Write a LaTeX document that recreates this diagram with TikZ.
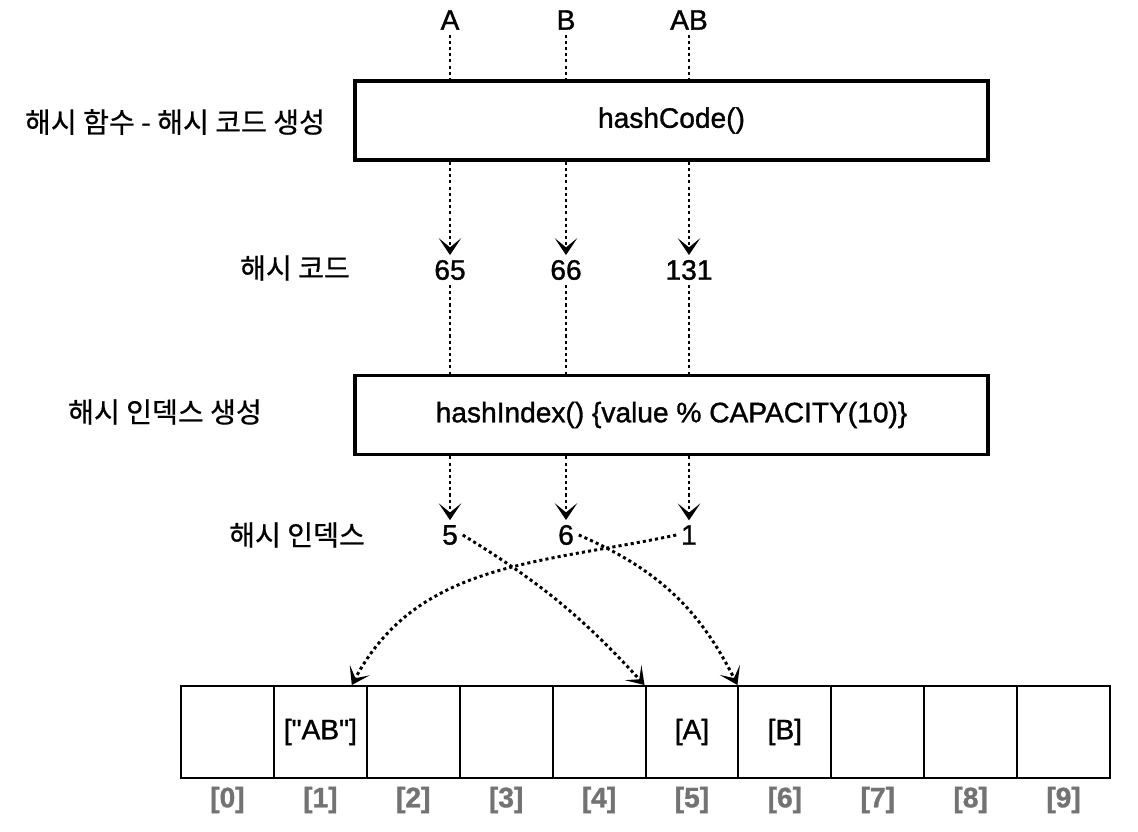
\documentclass[tikz,border=0pt]{standalone}
\usepackage{fontspec}
\newfontfamily\lat{Liberation Sans}[FakeBold=1.2]
\newfontfamily\kr{Noto Sans CJK KR}[FakeBold=0.6]
\usetikzlibrary{arrows.meta}

\tikzset{
  funcbox/.style={draw, line width=2.6pt, minimum width=15.825cm, minimum height=1.975cm},
  cellbox/.style={draw, line width=1.4pt, minimum width=2.3225cm, minimum height=2.3cm},
  dotline/.style={line width=2.1pt, dash pattern=on 2.2pt off 2.2pt},
  dotarrow/.style={dotline, -{Stealth[length=12pt,width=16pt,inset=6.5pt]}},
  idxlabel/.style={text=black!55, font=\fontsize{20}{24}\selectfont\lat\bfseries},
}

\begin{document}
\begin{tikzpicture}[x=0.025cm, y=-0.025cm, font=\fontsize{20}{24}\selectfont\lat]
    \useasboundingbox (0,0) rectangle (1138,832);

    % Keys going in
    \node (inA) at (450,20) {A};
    \node (inB) at (566,20) {B};
    \node (inAB) at (689,20) {AB};

    % Hash function box
    \node[funcbox] (hc) at (671.5,120.5) {hashCode()};
    \node (hcLabel) at (175,122) {\kr 해시 함수 - 해시 코드 생성};

    % Hash codes
    \node (c65) at (450,270) {65};
    \node (c66) at (566,270) {66};
    \node (c131) at (689,270) {131};
    \node (codeLabel) at (295,268) {\kr 해시 코드};

    % Hash index box
    \node[funcbox] (hi) at (671.5,415) {hashIndex() \{value \% CAPACITY(10)\}};
    \node (hiLabel) at (165,412) {\kr 해시 인덱스 생성};

    % Hash indices
    \node (i5) at (450,535) {5};
    \node (i6) at (566,535) {6};
    \node (i1) at (689,535) {1};
    \node (idxLabel) at (297,535) {\kr 해시 인덱스};

    % Array of ten buckets
    \foreach \i/\val in {0/{},1/{["AB"]},2/{},3/{},4/{},5/{[A]},6/{[B]},7/{},8/{},9/{}} {
        \node[cellbox] (cell\i) at ({181+92.9*(\i+0.5)},732) {\val};
        \node[idxlabel] (num\i) at ({181+92.9*(\i+0.5)},800) {[\i]};
    }

    % Dotted connectors
    \foreach \s/\c/\t in {inA/c65/i5, inB/c66/i6, inAB/c131/i1} {
        \draw[dotline] (\s) -- (\s |- hc.north);
        \draw[dotarrow] (\s |- hc.south) -- (\c);
        \draw[dotline] (\c) -- (\c |- hi.north);
        \draw[dotarrow] (\c |- hi.south) -- (\t);
    }

    % Index to bucket
    \draw[dotarrow] (i5.east) to[bend left=8] (cell5.north west);
    \draw[dotarrow] (i6.east) to[bend left=20] (cell6.north west);
    \draw[dotarrow] (i1.west) to[out=192, in=62] ([xshift=-0.4cm]cell1.north east);
\end{tikzpicture}
\end{document}
